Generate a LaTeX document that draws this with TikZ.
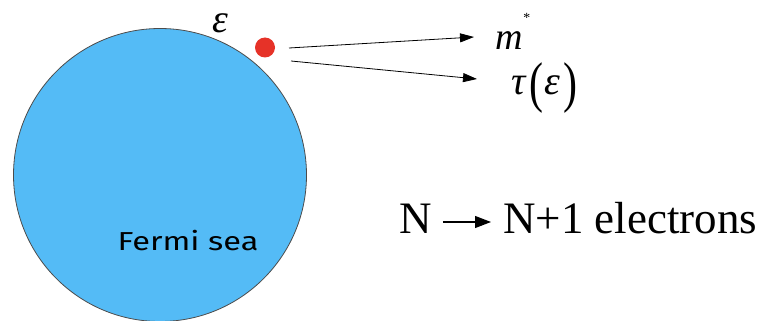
\documentclass[tikz,border=0pt]{standalone}
\usepackage{fontspec}
\setmainfont{Liberation Serif}
\newfontfamily\seafont{Fira Sans}
\usetikzlibrary{arrows.meta}
\definecolor{seablue}{RGB}{84,187,246}
\definecolor{dotred}{RGB}{230,50,40}
\tikzset{
  conn/.style={-{Triangle[length=14pt,width=9pt]}, line width=0.8pt},
  mathlbl/.style={font=\itshape\fontsize{38}{40}\selectfont, inner sep=0pt},
  greeklbl/.style={font=\itshape\fontsize{40}{42}\selectfont, inner sep=0pt},
}
\newcommand{\bigparen}[1]{\raisebox{-6pt}{\upshape\scalebox{1.05}[1.4]{#1}}}
\begin{document}
\begin{tikzpicture}[x=1pt,y=-1pt]
\useasboundingbox (0,0) rectangle (766,321);
\node[circle, draw=black!70, line width=0.8pt, fill=seablue, minimum size=293pt, inner sep=0pt] (sea) at (160,175) {};
\node[font=\seafont\fontsize{26}{28}\selectfont, anchor=base, inner sep=0pt] (label) at (188,250) {\scalebox{1.25}[1]{Fermi sea}};
\node[circle, fill=dotred, minimum size=20pt, inner sep=0pt] (dot) at (265,47.5) {};
\node[greeklbl, anchor=base] (eps) at (220,33) {ε};
\node[mathlbl, anchor=base west] (m) at (495,50) {m\raisebox{27pt}{\fontsize{14}{14}\selectfont *}};
\node[greeklbl, anchor=base west] (tau) at (511,95) {τ\kern4pt\bigparen{(}\kern1pt ε\kern3pt\bigparen{)}};
\coordinate (a1) at (289,48);
\coordinate (b1) at (474,37);
\coordinate (a2) at (291,61);
\coordinate (b2) at (477,79);
\draw[conn] (a1) -- (b1);
\draw[conn] (a2) -- (b2);
\node[font=\fontsize{45}{48}\selectfont, anchor=base west, inner sep=0pt] (n1) at (399,233) {N};
\node[font=\fontsize{45}{48}\selectfont, anchor=base west, inner sep=0pt] (n2) at (503,233) {N+1 electrons};
\draw[-{Triangle[length=16pt,width=12pt]}, line width=1.2pt, shorten <=11pt, shorten >=12pt] (n1.east |- 0,222) -- (n2.west |- 0,222);
\end{tikzpicture}
\end{document}
